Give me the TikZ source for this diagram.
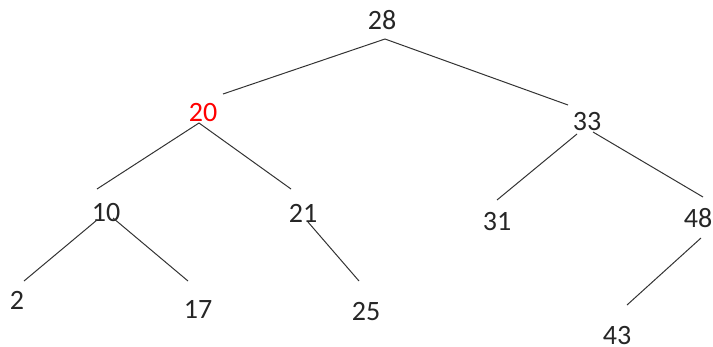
\documentclass[tikz,border=0pt]{standalone}
\usepackage{fontspec}
\setmainfont{Carlito}
\begin{document}
\begin{tikzpicture}[x=1pt,y=1pt,
  key/.style={inner sep=0pt,anchor=center,font=\fontsize{28}{32}\selectfont,text=black!85},
  edge/.style={line width=1pt,draw=black!80}]
\useasboundingbox (0,0) rectangle (713,-346);
\node[key] (n28) at (382,-20) {28};
\node[key,text=red] (n20) at (203,-113) {20};
\node[key] (n33) at (587,-122) {33};
\node[key] (n10) at (106,-213) {10};
\node[key] (n21) at (303,-213) {21};
\node[key] (n31) at (497,-222) {31};
\node[key] (n48) at (698,-218) {48};
\node[key] (n2) at (17,-300) {2};
\node[key] (n17) at (198,-309) {17};
\node[key] (n25) at (366,-312) {25};
\node[key] (n43) at (617,-336) {43};
\draw[edge] ([shift={(3,-19)}]n28.center) -- ([shift={(20,19)}]n20.center);
\draw[edge] ([shift={(3,-19)}]n28.center) -- ([shift={(-19,17)}]n33.center);
\draw[edge] ([shift={(-4,-10)}]n20.center) -- ([shift={(-9,24)}]n10.center);
\draw[edge] ([shift={(-4,-10)}]n20.center) -- ([shift={(-12,24)}]n21.center);
\draw[edge] ([shift={(-9,-7)}]n10.center) -- ([shift={(7,19)}]n2.center);
\draw[edge] ([shift={(7,-5)}]n10.center) -- ([shift={(-10,28)}]n17.center);
\draw[edge] ([shift={(5,-9)}]n21.center) -- ([shift={(-7,31)}]n25.center);
\draw[edge] ([shift={(-10,-12)}]n33.center) -- ([shift={(0,22)}]n31.center);
\draw[edge] ([shift={(6,-10)}]n33.center) -- ([shift={(5,21)}]n48.center);
\draw[edge] ([shift={(3,-20)}]n48.center) -- ([shift={(10,31)}]n43.center);
\end{tikzpicture}
\end{document}
